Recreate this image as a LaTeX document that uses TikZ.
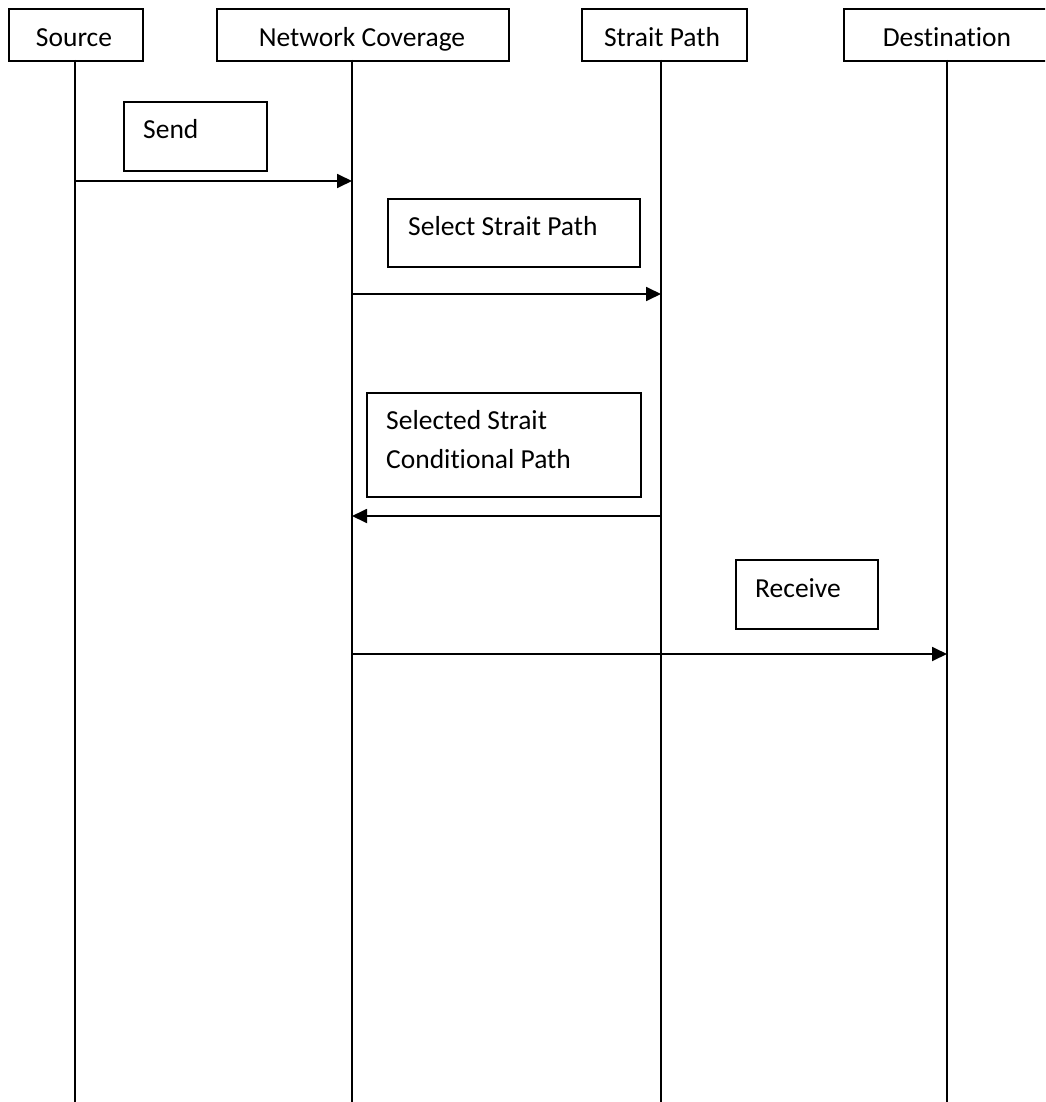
\documentclass[tikz,border=0pt]{standalone}
\usepackage{fontspec}
\setmainfont{Carlito}[Ligatures=NoCommon]
\usetikzlibrary{arrows.meta,calc}
\begin{document}
\begin{tikzpicture}[x=1pt,y=-1pt,
  font=\fontsize{27.5}{39}\selectfont,
  box/.style={draw,line width=1.8pt,rectangle,inner sep=0pt,anchor=north west},
  headtext/.style={anchor=base,inner sep=0pt},
  notetext/.style={anchor=base west,inner sep=0pt,align=left},
  lifeline/.style={line width=1.8pt},
  msg/.style={line width=1.8pt,-{Triangle[length=15pt,width=14pt]}}]
\clip (0,0) rectangle (1045,1102);
\useasboundingbox (0,0) rectangle (1045,1102);
\fill[white] (0,0) rectangle (1045,1102);

% participant headers
\node[box,minimum width=134pt,minimum height=52pt] (src) at (8,8) {};
\node[box,minimum width=292pt,minimum height=52pt] (net) at (216,8) {};
\node[box,minimum width=165pt,minimum height=52pt] (sp) at (581,8) {};
\node[box,minimum width=208pt,minimum height=52pt] (dst) at (843,8) {};
\node[headtext] (srcT) at (74,47) {Source};
\node[headtext] (netT) at (362,47) {Network Coverage};
\node[headtext] (spT) at (662,47) {Strait Path};
\node[headtext] (dstT) at (947,47) {Destination};

% lifelines
\coordinate (srcTop) at (75,60);  \coordinate (srcBot) at (75,1102);
\coordinate (netTop) at (352,60); \coordinate (netBot) at (352,1102);
\coordinate (spTop) at (661,60);  \coordinate (spBot) at (661,1102);
\coordinate (dstTop) at (947,60); \coordinate (dstBot) at (947,1102);
\draw[lifeline] (srcTop) -- (srcBot);
\draw[lifeline] (netTop) -- (netBot);
\draw[lifeline] (spTop) -- (spBot);
\draw[lifeline] (dstTop) -- (dstBot);

% note boxes (multi-line text: base anchor sits on the last line)
\node[box,minimum width=143pt,minimum height=69pt] (sendB) at (123,101) {};
\node[notetext] (sendT) at (143,139) {Send};
\node[box,minimum width=252pt,minimum height=68pt] (selB) at (387,198) {};
\node[notetext] (selT) at (408,235) {Select Strait Path};
\node[box,minimum width=274pt,minimum height=104pt] (condB) at (366,392) {};
\node[notetext] (condT) at (386,468) {Selected Strait\\Conditional Path};
\node[box,minimum width=142pt,minimum height=69pt] (recvB) at (735,559) {};
\node[notetext] (recvT) at (755,597) {Receive};

% messages
\coordinate (m1a) at (75,181);  \coordinate (m1b) at (352,181);
\coordinate (m2a) at (352,294); \coordinate (m2b) at (661,294);
\coordinate (m3a) at (661,516); \coordinate (m3b) at (352,516);
\coordinate (m4a) at (352,654); \coordinate (m4b) at (947,654);
\draw[msg] (m1a) -- (m1b);
\draw[msg] (m2a) -- (m2b);
\draw[msg] (m3a) -- (m3b);
\draw[msg] (m4a) -- (m4b);
\end{tikzpicture}
\end{document}
